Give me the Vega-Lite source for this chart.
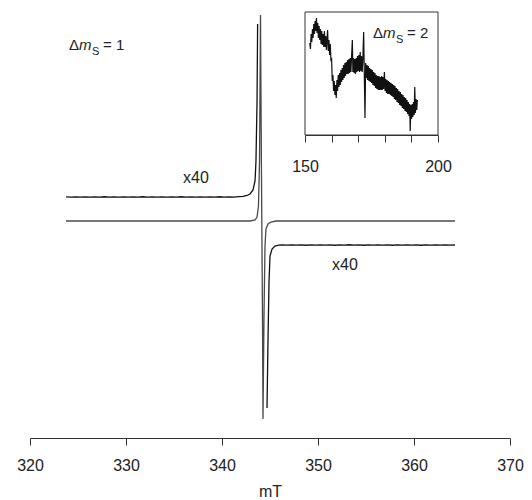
{
  "$schema": "https://vega.github.io/schema/vega-lite/v6.json",
  "width": 480,
  "height": 428,
  "autosize": {"type": "none"},
  "padding": {"left": 30, "top": 10, "right": 22, "bottom": 62},
  "background": "white",
  "config": {
    "view": {"stroke": null},
    "font": "Liberation Sans",
    "axis": {
      "labelFont": "Liberation Sans", "labelFontSize": 16, "labelColor": "#222",
      "titleFont": "Liberation Sans", "titleFontSize": 16, "titleFontWeight": "normal", "titleColor": "#222",
      "tickColor": "#333", "domainColor": "#333", "tickSize": 7, "labelPadding": 12, "labelFlush": false,
      "grid": false, "domainWidth": 1, "tickWidth": 1
    }
  },
  "datasets": {
    "main": [
      {"s": "a", "B": 323.75, "I": 0}, {"s": "a", "B": 330, "I": 0}, {"s": "a", "B": 336, "I": 0},
      {"s": "a", "B": 340, "I": 0}, {"s": "a", "B": 342.92, "I": 0}, {"s": "a", "B": 343.44, "I": 1},
      {"s": "a", "B": 343.65, "I": 4}, {"s": "a", "B": 343.80, "I": 15}, {"s": "a", "B": 343.91, "I": 60},
      {"s": "a", "B": 344.01, "I": 206}, {"s": "a", "B": 344.11, "I": 50}, {"s": "a", "B": 344.22, "I": -100},
      {"s": "a", "B": 344.27, "I": -198}, {"s": "a", "B": 344.38, "I": -90}, {"s": "a", "B": 344.48, "I": -25},
      {"s": "a", "B": 344.58, "I": -8}, {"s": "a", "B": 344.79, "I": -3}, {"s": "a", "B": 345.10, "I": -1},
      {"s": "a", "B": 345.63, "I": 0}, {"s": "a", "B": 350, "I": 0}, {"s": "a", "B": 364.27, "I": 0},

      {"s": "b", "B": 323.75, "I": 24.1}, {"s": "b", "B": 324.25, "I": 23.85}, {"s": "b", "B": 324.75, "I": 24.2},
      {"s": "b", "B": 325.25, "I": 23.9}, {"s": "b", "B": 325.75, "I": 24.15}, {"s": "b", "B": 326.25, "I": 23.8},
      {"s": "b", "B": 326.75, "I": 24.2}, {"s": "b", "B": 327.25, "I": 23.95}, {"s": "b", "B": 327.75, "I": 24.25},
      {"s": "b", "B": 328.25, "I": 23.85}, {"s": "b", "B": 328.75, "I": 24.15}, {"s": "b", "B": 329.25, "I": 23.9},
      {"s": "b", "B": 329.75, "I": 24.2}, {"s": "b", "B": 330.25, "I": 23.8}, {"s": "b", "B": 330.75, "I": 24.15},
      {"s": "b", "B": 331.25, "I": 23.9}, {"s": "b", "B": 331.75, "I": 24.25}, {"s": "b", "B": 332.25, "I": 23.85},
      {"s": "b", "B": 332.75, "I": 24.15}, {"s": "b", "B": 333.25, "I": 23.95}, {"s": "b", "B": 333.75, "I": 24.2},
      {"s": "b", "B": 334.25, "I": 23.8}, {"s": "b", "B": 334.75, "I": 24.15}, {"s": "b", "B": 335.25, "I": 23.9},
      {"s": "b", "B": 335.75, "I": 24.25}, {"s": "b", "B": 336.25, "I": 23.85}, {"s": "b", "B": 336.75, "I": 24.2},
      {"s": "b", "B": 337.25, "I": 23.9}, {"s": "b", "B": 337.75, "I": 24.15}, {"s": "b", "B": 338.25, "I": 23.8},
      {"s": "b", "B": 338.75, "I": 24.2}, {"s": "b", "B": 339.25, "I": 23.95}, {"s": "b", "B": 339.75, "I": 24.25},
      {"s": "b", "B": 340.25, "I": 23.9}, {"s": "b", "B": 340.75, "I": 24.2}, {"s": "b", "B": 341.25, "I": 23.95},
      {"s": "b", "B": 341.75, "I": 24.3}, {"s": "b", "B": 342.2, "I": 24.6}, {"s": "b", "B": 342.6, "I": 25.5},
      {"s": "b", "B": 342.92, "I": 27}, {"s": "b", "B": 343.23, "I": 31}, {"s": "b", "B": 343.44, "I": 40},
      {"s": "b", "B": 343.54, "I": 60}, {"s": "b", "B": 343.65, "I": 120}, {"s": "b", "B": 343.71, "I": 197},

      {"s": "c", "B": 344.69, "I": -187}, {"s": "c", "B": 344.79, "I": -120}, {"s": "c", "B": 344.90, "I": -60},
      {"s": "c", "B": 345.0, "I": -35}, {"s": "c", "B": 345.21, "I": -28}, {"s": "c", "B": 345.52, "I": -25},
      {"s": "c", "B": 345.9, "I": -24.2}, {"s": "c", "B": 346.25, "I": -23.85}, {"s": "c", "B": 346.75, "I": -24.15},
      {"s": "c", "B": 347.25, "I": -23.8}, {"s": "c", "B": 347.75, "I": -24.2}, {"s": "c", "B": 348.25, "I": -23.9},
      {"s": "c", "B": 348.75, "I": -24.25}, {"s": "c", "B": 349.25, "I": -23.85}, {"s": "c", "B": 349.75, "I": -24.15},
      {"s": "c", "B": 350.25, "I": -23.8}, {"s": "c", "B": 350.75, "I": -24.2}, {"s": "c", "B": 351.25, "I": -23.9},
      {"s": "c", "B": 351.75, "I": -24.25}, {"s": "c", "B": 352.25, "I": -23.85}, {"s": "c", "B": 352.75, "I": -24.15},
      {"s": "c", "B": 353.25, "I": -23.75}, {"s": "c", "B": 353.75, "I": -24.2}, {"s": "c", "B": 354.25, "I": -23.9},
      {"s": "c", "B": 354.75, "I": -24.25}, {"s": "c", "B": 355.25, "I": -23.8}, {"s": "c", "B": 355.75, "I": -24.15},
      {"s": "c", "B": 356.25, "I": -23.85}, {"s": "c", "B": 356.75, "I": -24.2}, {"s": "c", "B": 357.25, "I": -23.9},
      {"s": "c", "B": 357.75, "I": -24.25}, {"s": "c", "B": 358.25, "I": -23.8}, {"s": "c", "B": 358.75, "I": -24.15},
      {"s": "c", "B": 359.25, "I": -23.85}, {"s": "c", "B": 359.75, "I": -24.2}, {"s": "c", "B": 360.25, "I": -23.9},
      {"s": "c", "B": 360.75, "I": -24.25}, {"s": "c", "B": 361.25, "I": -23.85}, {"s": "c", "B": 361.75, "I": -24.15},
      {"s": "c", "B": 362.25, "I": -23.8}, {"s": "c", "B": 362.75, "I": -24.2}, {"s": "c", "B": 363.25, "I": -23.9},
      {"s": "c", "B": 363.75, "I": -24.15}, {"s": "c", "B": 364.27, "I": -24}
    ],
    "mainText": [
      {"k": "x", "B": 335.94, "I": 38, "t": "x40"},
      {"k": "x", "B": 351.46, "I": -49, "t": "x40"},
      {"k": "n", "B": 324.06, "I": 171, "t": "Δ"},
      {"k": "i", "B": 325.10, "I": 171, "t": "m"},
      {"k": "s", "B": 326.46, "I": 166, "t": "S"},
      {"k": "n", "B": 327.60, "I": 171, "t": "= 1"}
    ],
    "inset": [
      {"B": 151.80, "I": 92}, {"B": 152.05, "I": 86}, {"B": 152.30, "I": 101}, {"B": 152.55, "I": 93},
      {"B": 152.80, "I": 106}, {"B": 153.05, "I": 97}, {"B": 153.30, "I": 111}, {"B": 153.55, "I": 101},
      {"B": 153.80, "I": 114}, {"B": 154.05, "I": 104}, {"B": 154.30, "I": 117}, {"B": 154.55, "I": 102},
      {"B": 154.80, "I": 112}, {"B": 155.05, "I": 97}, {"B": 155.30, "I": 109}, {"B": 155.55, "I": 95},
      {"B": 155.80, "I": 106}, {"B": 156.05, "I": 91}, {"B": 156.30, "I": 104}, {"B": 156.55, "I": 90},
      {"B": 156.80, "I": 101}, {"B": 157.05, "I": 88}, {"B": 157.30, "I": 104}, {"B": 157.55, "I": 88},
      {"B": 157.80, "I": 99}, {"B": 158.05, "I": 85}, {"B": 158.30, "I": 97}, {"B": 158.50, "I": 105},
      {"B": 158.75, "I": 84}, {"B": 159.00, "I": 95}, {"B": 159.25, "I": 80}, {"B": 159.50, "I": 91},
      {"B": 159.75, "I": 75}, {"B": 160.00, "I": 76}, {"B": 160.25, "I": 54}, {"B": 160.50, "I": 60},
      {"B": 160.75, "I": 44}, {"B": 161.00, "I": 54}, {"B": 161.25, "I": 40}, {"B": 161.50, "I": 50},
      {"B": 161.75, "I": 37}, {"B": 162.00, "I": 55}, {"B": 162.25, "I": 44}, {"B": 162.50, "I": 60},
      {"B": 162.75, "I": 48}, {"B": 163.00, "I": 62}, {"B": 163.25, "I": 50}, {"B": 163.50, "I": 65},
      {"B": 163.75, "I": 53}, {"B": 164.00, "I": 67}, {"B": 164.25, "I": 55}, {"B": 164.50, "I": 70},
      {"B": 164.75, "I": 57}, {"B": 165.00, "I": 72}, {"B": 165.25, "I": 59}, {"B": 165.50, "I": 73},
      {"B": 165.75, "I": 61}, {"B": 166.00, "I": 75}, {"B": 166.25, "I": 61}, {"B": 166.50, "I": 76},
      {"B": 166.75, "I": 62}, {"B": 167.00, "I": 77}, {"B": 167.25, "I": 63}, {"B": 167.50, "I": 78},
      {"B": 167.80, "I": 95}, {"B": 168.00, "I": 63}, {"B": 168.25, "I": 77}, {"B": 168.50, "I": 62},
      {"B": 168.75, "I": 76}, {"B": 169.00, "I": 61}, {"B": 169.25, "I": 77}, {"B": 169.50, "I": 63},
      {"B": 169.75, "I": 79}, {"B": 170.00, "I": 64}, {"B": 170.25, "I": 80}, {"B": 170.50, "I": 63},
      {"B": 170.75, "I": 83}, {"B": 171.00, "I": 64}, {"B": 171.25, "I": 79}, {"B": 171.50, "I": 63},
      {"B": 171.75, "I": 76}, {"B": 172.05, "I": 103}, {"B": 172.30, "I": 60}, {"B": 172.55, "I": 17},
      {"B": 172.80, "I": 72}, {"B": 173.05, "I": 57}, {"B": 173.30, "I": 70}, {"B": 173.55, "I": 55},
      {"B": 173.80, "I": 69}, {"B": 174.05, "I": 54}, {"B": 174.30, "I": 67}, {"B": 174.55, "I": 53},
      {"B": 174.80, "I": 66}, {"B": 175.05, "I": 52}, {"B": 175.30, "I": 65}, {"B": 175.55, "I": 50},
      {"B": 175.80, "I": 63}, {"B": 176.05, "I": 49}, {"B": 176.30, "I": 62}, {"B": 176.55, "I": 47},
      {"B": 176.80, "I": 60}, {"B": 177.05, "I": 46}, {"B": 177.30, "I": 59}, {"B": 177.55, "I": 45},
      {"B": 177.80, "I": 59}, {"B": 178.05, "I": 45}, {"B": 178.30, "I": 58}, {"B": 178.55, "I": 45},
      {"B": 178.80, "I": 59}, {"B": 179.05, "I": 45}, {"B": 179.30, "I": 58}, {"B": 179.55, "I": 46},
      {"B": 179.85, "I": 63}, {"B": 180.10, "I": 44}, {"B": 180.35, "I": 56}, {"B": 180.60, "I": 42},
      {"B": 180.85, "I": 55}, {"B": 181.10, "I": 41}, {"B": 181.35, "I": 54}, {"B": 181.60, "I": 41},
      {"B": 181.85, "I": 53}, {"B": 182.10, "I": 40}, {"B": 182.35, "I": 52}, {"B": 182.60, "I": 39},
      {"B": 182.85, "I": 51}, {"B": 183.10, "I": 38}, {"B": 183.35, "I": 50}, {"B": 183.60, "I": 36},
      {"B": 183.85, "I": 49}, {"B": 184.10, "I": 35}, {"B": 184.35, "I": 47}, {"B": 184.60, "I": 33},
      {"B": 184.85, "I": 46}, {"B": 185.10, "I": 32}, {"B": 185.35, "I": 44}, {"B": 185.60, "I": 30},
      {"B": 185.85, "I": 43}, {"B": 186.10, "I": 29}, {"B": 186.35, "I": 41}, {"B": 186.60, "I": 27},
      {"B": 186.85, "I": 40}, {"B": 187.10, "I": 26}, {"B": 187.35, "I": 38}, {"B": 187.60, "I": 24},
      {"B": 187.85, "I": 37}, {"B": 188.10, "I": 23}, {"B": 188.35, "I": 35}, {"B": 188.60, "I": 21},
      {"B": 188.85, "I": 33}, {"B": 189.10, "I": 19}, {"B": 189.35, "I": 31}, {"B": 189.56, "I": 4},
      {"B": 189.80, "I": 30}, {"B": 190.05, "I": 16}, {"B": 190.30, "I": 31}, {"B": 190.55, "I": 18},
      {"B": 190.80, "I": 33}, {"B": 191.05, "I": 20}, {"B": 191.26, "I": 48}, {"B": 191.50, "I": 22},
      {"B": 191.75, "I": 36}, {"B": 192.00, "I": 25}, {"B": 192.25, "I": 35}
    ],
    "insetBox": [{"B": 150, "B2": 200, "I": 0, "I2": 123}],
    "insetText": [
      {"k": "n", "B": 175.56, "I": 97, "t": "Δ"},
      {"k": "i", "B": 179.32, "I": 97, "t": "m"},
      {"k": "s", "B": 184.21, "I": 92, "t": "S"},
      {"k": "n", "B": 188.35, "I": 97, "t": "= 2"}
    ]
  },
  "layer": [
    {
      "layer": [
        {
          "data": {"name": "main"},
          "mark": {"type": "line", "strokeWidth": 1.3},
          "encoding": {
            "x": {"field": "B", "type": "quantitative",
                  "scale": {"domain": [320, 370], "nice": false, "zero": false},
                  "axis": {"values": [320, 330, 340, 350, 360, 370], "title": "mT", "titlePadding": 10, "orient": "bottom"}},
            "y": {"field": "I", "type": "quantitative",
                  "scale": {"domain": [-217, 211], "nice": false, "zero": false}, "axis": null},
            "detail": {"field": "s", "type": "nominal"},
            "color": {"field": "s", "type": "nominal",
                      "scale": {"domain": ["a", "b", "c"], "range": ["#4a4a4a", "#111111", "#111111"]}, "legend": null}
          }
        },
        {
          "data": {"name": "mainText"},
          "transform": [{"filter": "datum.k == 'x'"}],
          "mark": {"type": "text", "align": "left", "baseline": "alphabetic", "fontSize": 16, "color": "#222"},
          "encoding": {"x": {"field": "B", "type": "quantitative"}, "y": {"field": "I", "type": "quantitative"}, "text": {"field": "t"}}
        },
        {
          "data": {"name": "mainText"},
          "transform": [{"filter": "datum.k == 'n'"}],
          "mark": {"type": "text", "align": "left", "baseline": "alphabetic", "fontSize": 15, "color": "#222"},
          "encoding": {"x": {"field": "B", "type": "quantitative"}, "y": {"field": "I", "type": "quantitative"}, "text": {"field": "t"}}
        },
        {
          "data": {"name": "mainText"},
          "transform": [{"filter": "datum.k == 'i'"}],
          "mark": {"type": "text", "align": "left", "baseline": "alphabetic", "fontSize": 15, "fontStyle": "italic", "color": "#222"},
          "encoding": {"x": {"field": "B", "type": "quantitative"}, "y": {"field": "I", "type": "quantitative"}, "text": {"field": "t"}}
        },
        {
          "data": {"name": "mainText"},
          "transform": [{"filter": "datum.k == 's'"}],
          "mark": {"type": "text", "align": "left", "baseline": "alphabetic", "fontSize": 11, "color": "#222"},
          "encoding": {"x": {"field": "B", "type": "quantitative"}, "y": {"field": "I", "type": "quantitative"}, "text": {"field": "t"}}
        }
      ]
    },
    {
      "layer": [
        {
          "data": {"name": "insetBox"},
          "mark": {"type": "rect", "fill": "white", "fillOpacity": 0, "stroke": "#333", "strokeWidth": 1},
          "encoding": {
            "x": {"field": "B", "type": "quantitative",
                  "scale": {"domain": [150, 200], "range": [275, 408], "nice": false, "zero": false},
                  "axis": {"orient": "bottom", "offset": -303, "values": [150, 160, 170, 180, 190, 200], "title": null,
                           "labelExpr": "datum.value == 150 || datum.value == 200 ? datum.label : ''", "labelPadding": 16}},
            "x2": {"field": "B2"},
            "y": {"field": "I", "type": "quantitative",
                  "scale": {"domain": [0, 123], "range": [125, 2], "nice": false, "zero": false}, "axis": null},
            "y2": {"field": "I2"}
          }
        },
        {
          "data": {"name": "inset"},
          "mark": {"type": "line", "strokeWidth": 1.2, "color": "#111"},
          "encoding": {
            "x": {"field": "B", "type": "quantitative"},
            "y": {"field": "I", "type": "quantitative"}
          }
        },
        {
          "data": {"name": "insetText"},
          "transform": [{"filter": "datum.k == 'n'"}],
          "mark": {"type": "text", "align": "left", "baseline": "alphabetic", "fontSize": 15, "color": "#222"},
          "encoding": {"x": {"field": "B", "type": "quantitative"}, "y": {"field": "I", "type": "quantitative"}, "text": {"field": "t"}}
        },
        {
          "data": {"name": "insetText"},
          "transform": [{"filter": "datum.k == 'i'"}],
          "mark": {"type": "text", "align": "left", "baseline": "alphabetic", "fontSize": 15, "fontStyle": "italic", "color": "#222"},
          "encoding": {"x": {"field": "B", "type": "quantitative"}, "y": {"field": "I", "type": "quantitative"}, "text": {"field": "t"}}
        },
        {
          "data": {"name": "insetText"},
          "transform": [{"filter": "datum.k == 's'"}],
          "mark": {"type": "text", "align": "left", "baseline": "alphabetic", "fontSize": 11, "color": "#222"},
          "encoding": {"x": {"field": "B", "type": "quantitative"}, "y": {"field": "I", "type": "quantitative"}, "text": {"field": "t"}}
        }
      ]
    }
  ],
  "resolve": {
    "scale": {"x": "independent", "y": "independent"},
    "axis": {"x": "independent", "y": "independent"}
  }
}
